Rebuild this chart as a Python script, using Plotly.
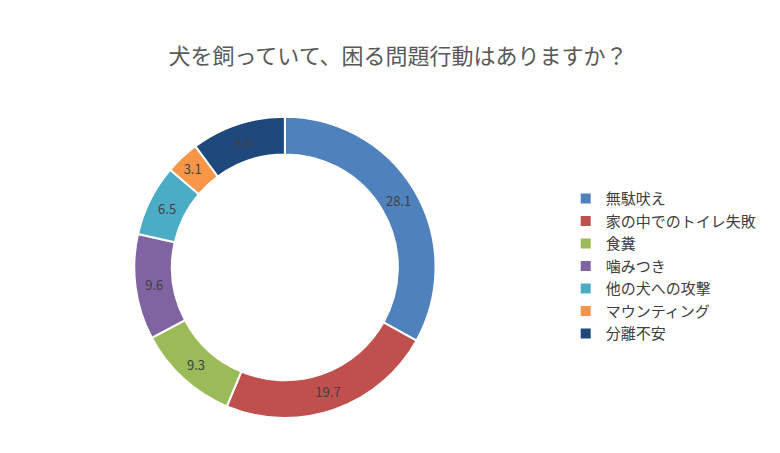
import plotly.graph_objects as go

labels = ["無駄吠え", "家の中でのトイレ失敗", "食糞", "噛みつき", "他の犬への攻撃", "マウンティング", "分離不安"]
values = [28.1, 19.7, 9.3, 9.6, 6.5, 3.1, 8.6]
colors = ["#4F81BD", "#C0504D", "#9BBB59", "#8064A2", "#4BACC6", "#F79646", "#1F497D"]

fig = go.Figure(go.Pie(
    labels=labels, values=values, hole=0.75, sort=False, direction="clockwise", rotation=0,
    marker=dict(colors=colors, line=dict(color="white", width=2)),
    texttemplate="%{value}", textposition="inside", insidetextorientation="horizontal",
    textfont=dict(size=13, color="#404040"),
    domain=dict(x=[0.16, 0.55], y=[0.095, 0.76]),
))
fig.update_layout(
    width=780, height=453, paper_bgcolor="white", plot_bgcolor="white",
    font=dict(family="Noto Sans CJK JP", color="#404040"),
    title=dict(text="犬を飼っていて、困る問題行動はありますか？", x=0.5, xanchor="center", y=0.91,
               font=dict(size=22, color="#595959")),
    legend=dict(x=0.715, y=0.43, yanchor="middle", font=dict(size=15, color="#404040"),
                tracegroupgap=0, itemwidth=30),
    margin=dict(l=0, r=0, t=0, b=0),
    uniformtext=dict(minsize=12, mode="show"),
)
fig.write_html("out.html")
